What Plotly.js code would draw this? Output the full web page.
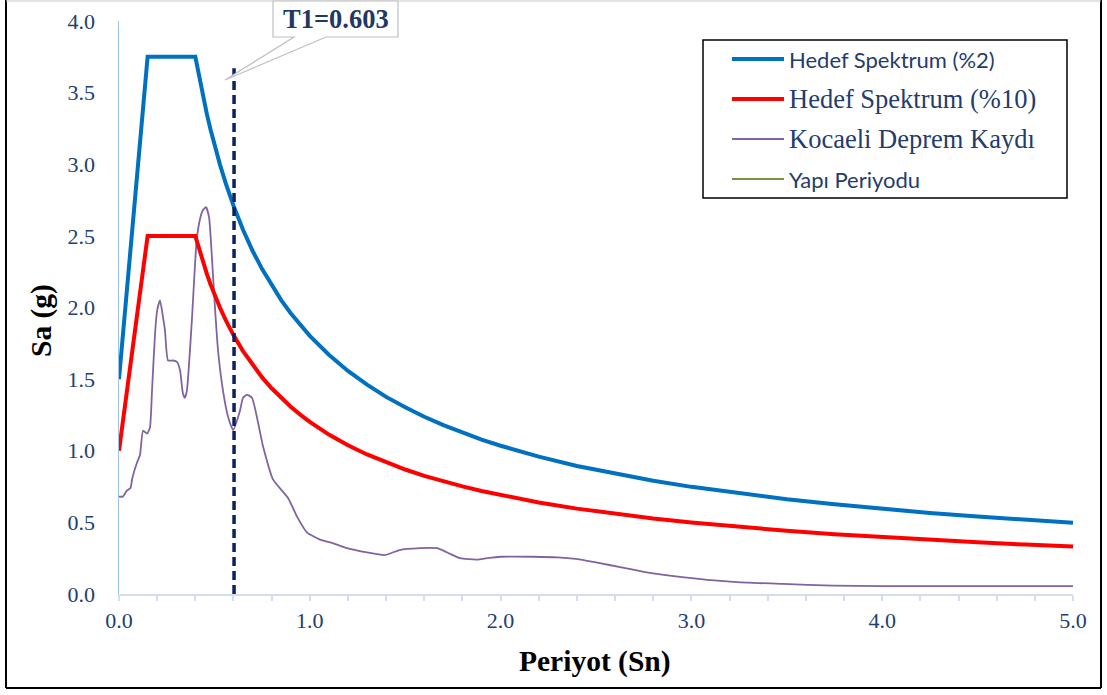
<!DOCTYPE html>
<html>
<head>
<meta charset="utf-8">
<script src="https://cdn.plot.ly/plotly-3.0.1.min.js"></script>
<style>
  html, body { margin: 0; padding: 0; background: #ffffff; }
  #chart { width: 1107px; height: 695px; }
</style>
</head>
<body>
<div id="chart"></div>
<script>
// Target design spectra (periods in s, spectral acceleration in g)
const spectrumPeriods = [0, 0.15, 0.40, 0.42, 0.44, 0.46, 0.48, 0.50, 0.53, 0.56, 0.60, 0.65, 0.70, 0.75, 0.80, 0.85, 0.90, 0.95, 1.00, 1.10, 1.20, 1.30, 1.40, 1.50, 1.60, 1.70, 1.80, 1.90, 2.00, 2.20, 2.40, 2.60, 2.80, 3.00, 3.25, 3.50, 3.75, 4.00, 4.25, 4.50, 4.75, 5.00];
const targetSa2 = [1.500, 3.750, 3.750, 3.606, 3.475, 3.353, 3.241, 3.137, 2.994, 2.865, 2.711, 2.543, 2.396, 2.268, 2.154, 2.052, 1.960, 1.877, 1.802, 1.670, 1.557, 1.461, 1.376, 1.303, 1.237, 1.179, 1.126, 1.078, 1.035, 0.959, 0.894, 0.839, 0.791, 0.748, 0.702, 0.661, 0.626, 0.594, 0.566, 0.541, 0.518, 0.497];
const targetSa10 = [1.000, 2.500, 2.500, 2.404, 2.317, 2.236, 2.161, 2.091, 1.996, 1.910, 1.807, 1.696, 1.598, 1.512, 1.436, 1.368, 1.307, 1.252, 1.201, 1.113, 1.038, 0.974, 0.918, 0.869, 0.825, 0.786, 0.751, 0.719, 0.690, 0.639, 0.596, 0.559, 0.527, 0.499, 0.468, 0.441, 0.417, 0.396, 0.378, 0.361, 0.345, 0.332];

// Kocaeli earthquake record response spectrum
const recordPeriods = [0, 0.02, 0.04, 0.06, 0.07, 0.095, 0.11, 0.126, 0.147, 0.162, 0.173, 0.189, 0.20, 0.215, 0.231, 0.241, 0.257, 0.283, 0.304, 0.32, 0.335, 0.345, 0.356, 0.381, 0.407, 0.425, 0.440, 0.456, 0.472, 0.487, 0.503, 0.519, 0.545, 0.571, 0.598, 0.634, 0.65, 0.671, 0.697, 0.755, 0.807, 0.886, 0.933, 0.985, 1.053, 1.12, 1.195, 1.30, 1.394, 1.47, 1.578, 1.667, 1.72, 1.787, 1.876, 1.93, 2.00, 2.17, 2.30, 2.42, 2.52, 2.62, 2.75, 2.94, 3.22, 3.48, 3.74, 4.00, 4.50, 5.00];
const recordSa = [0.68, 0.68, 0.72, 0.74, 0.81, 0.92, 0.97, 1.14, 1.12, 1.16, 1.42, 1.82, 1.98, 2.05, 1.93, 1.84, 1.63, 1.63, 1.62, 1.56, 1.40, 1.37, 1.42, 1.89, 2.47, 2.62, 2.68, 2.70, 2.63, 2.35, 2.00, 1.70, 1.42, 1.24, 1.145, 1.28, 1.37, 1.39, 1.37, 1.03, 0.80, 0.67, 0.54, 0.43, 0.38, 0.355, 0.32, 0.29, 0.272, 0.307, 0.32, 0.32, 0.29, 0.25, 0.24, 0.25, 0.26, 0.26, 0.255, 0.24, 0.215, 0.19, 0.155, 0.12, 0.085, 0.07, 0.058, 0.055, 0.055, 0.055];

// Fundamental period of the structure
const structurePeriod = 0.603;
const periodLineX = [structurePeriod, structurePeriod];
const periodLineY = [0, 3.67];

const legendNames = ['Hedef Spektrum (%2)', 'Hedef Spektrum (%10)', 'Kocaeli Deprem Kaydı', 'Yapı Periyodu'];
const periodLabel = 'T1=' + structurePeriod.toFixed(3);
const xTitle = 'Periyot (Sn)';
const yTitle = 'Sa (g)';

const SERIF = '"Liberation Serif", "Times New Roman", serif';
const SANS = 'Lato, "Liberation Sans", sans-serif';
const TICK_COLOR = '#22406f';

const traces = [
  { x: recordPeriods, y: recordSa, mode: 'lines', line: { color: '#8064a2', width: 1.8, shape: 'spline', smoothing: 0.5 }, name: legendNames[2] },
  { x: spectrumPeriods, y: targetSa10, mode: 'lines', line: { color: '#ff0000', width: 4 }, name: legendNames[1] },
  { x: spectrumPeriods, y: targetSa2, mode: 'lines', line: { color: '#0070c0', width: 4 }, name: legendNames[0] },
  { x: periodLineX, y: periodLineY, mode: 'lines', line: { color: '#0b2160', width: 3.5, dash: '9px,5px' }, name: legendNames[3] }
];

// Paper-coordinate helpers for the plot area (119..1073 px wide, 21..594 px tall)
const PL = 119, PR = 1073, PT = 21, PB = 594;
const px = v => (v - PL) / (PR - PL);
const py = v => (PB - v) / (PB - PT);

const legendRows = [
  { y: 59, color: '#0070c0', width: 4, font: SANS, size: 22 },
  { y: 99, color: '#ff0000', width: 4, font: SERIF, size: 26.5 },
  { y: 139, color: '#8064a2', width: 2, font: SERIF, size: 26.5 },
  { y: 179, color: '#77933c', width: 2, font: SANS, size: 22 }
];

const shapes = [
  // outer frame
  { type: 'line', xref: 'paper', yref: 'paper', x0: px(6), x1: px(6), y0: py(0), y1: py(688), line: { color: '#000', width: 2 } },
  { type: 'line', xref: 'paper', yref: 'paper', x0: px(1101), x1: px(1101), y0: py(0), y1: py(688), line: { color: '#000', width: 2 } },
  { type: 'line', xref: 'paper', yref: 'paper', x0: px(6), x1: px(1101), y0: py(688), y1: py(688), line: { color: '#000', width: 2 } },
  { type: 'line', xref: 'paper', yref: 'paper', x0: px(6), x1: px(1101), y0: py(1), y1: py(1), line: { color: '#c8c8c8', width: 1 } },
  // legend box
  { type: 'rect', xref: 'paper', yref: 'paper', x0: px(703), x1: px(1067), y0: py(198), y1: py(40), line: { color: '#000', width: 1.5 }, fillcolor: 'rgba(255,255,255,1)' },
  // callout for the structure period
  {
    type: 'path', xref: 'paper', yref: 'paper',
    path: `M ${px(273)},${py(1)} L ${px(398)},${py(1)} L ${px(398)},${py(37)} L ${px(326)},${py(37)} L ${px(225)},${py(80)} L ${px(294)},${py(37)} L ${px(273)},${py(37)} Z`,
    fillcolor: '#ffffff', line: { color: '#bfbfbf', width: 1.2 }
  }
];

const annotations = [
  { xref: 'paper', yref: 'paper', x: px(335.5), y: py(19), xanchor: 'center', yanchor: 'middle', text: '<b>' + periodLabel + '</b>', showarrow: false, font: { family: SERIF, size: 26.5, color: '#1f3864' } },
  { xref: 'paper', yref: 'paper', x: px(595), y: py(661), xanchor: 'center', yanchor: 'middle', text: '<b>' + xTitle + '</b>', showarrow: false, font: { family: SERIF, size: 29.5, color: '#000' } },
  { xref: 'paper', yref: 'paper', x: px(41), y: py(321), xanchor: 'center', yanchor: 'middle', text: '<b>' + yTitle + '</b>', textangle: -90, showarrow: false, font: { family: SERIF, size: 29.5, color: '#000' } }
];

legendRows.forEach((row, i) => {
  shapes.push({ type: 'line', xref: 'paper', yref: 'paper', x0: px(732), x1: px(784), y0: py(row.y), y1: py(row.y), line: { color: row.color, width: row.width } });
  annotations.push({ xref: 'paper', yref: 'paper', x: px(787), y: py(row.y), xanchor: 'left', yanchor: 'middle', text: legendNames[i], showarrow: false, font: { family: row.font, size: row.size, color: '#1f3d6e' } });
});

const layout = {
  width: 1107,
  height: 695,
  margin: { l: PL, r: 1107 - PR, t: PT, b: 695 - PB },
  paper_bgcolor: '#ffffff',
  plot_bgcolor: '#ffffff',
  showlegend: false,
  xaxis: {
    range: [0, 5], dtick: 1, tickformat: '.1f',
    showgrid: false, zeroline: false,
    showline: true, linecolor: '#d3dff1', linewidth: 2,
    ticks: 'outside', ticklen: 5, tickwidth: 2, tickcolor: '#d3dff1',
    minor: { dtick: 0.2, ticks: 'outside', ticklen: 5, tickwidth: 2, tickcolor: '#d3dff1', showgrid: false },
    ticklabelstandoff: 1,
    tickfont: { family: SERIF, size: 22, color: TICK_COLOR }
  },
  yaxis: {
    range: [0, 4], dtick: 0.5, tickformat: '.1f',
    showgrid: false, zeroline: false,
    showline: true, linecolor: '#9dc3e6', linewidth: 1.5,
    ticks: '', ticklabelstandoff: 18,
    tickfont: { family: SERIF, size: 22, color: TICK_COLOR }
  },
  shapes: shapes,
  annotations: annotations
};

Plotly.newPlot('chart', traces, layout, { staticPlot: true });
</script>
</body>
</html>
